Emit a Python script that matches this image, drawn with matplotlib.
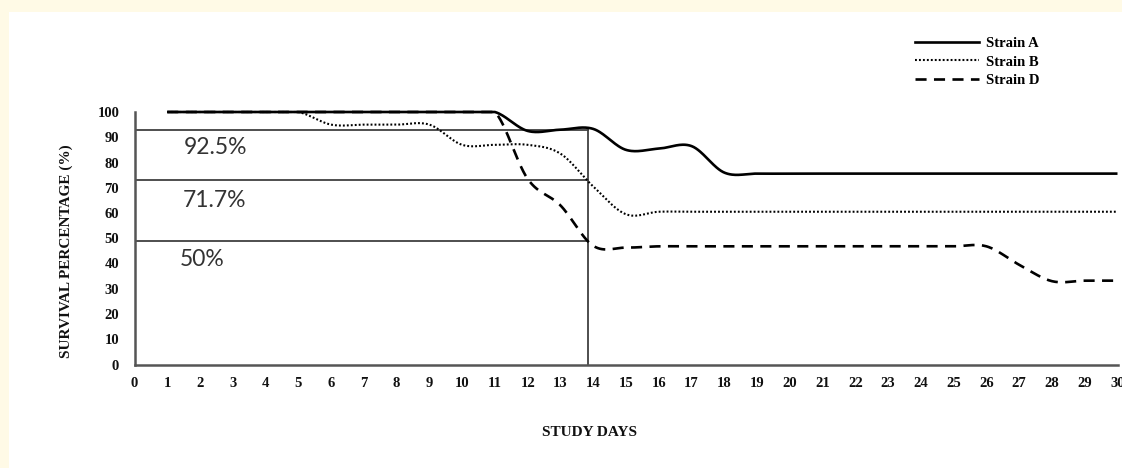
import numpy as np
import matplotlib
matplotlib.use("Agg")
import matplotlib.pyplot as plt
from matplotlib.patches import Rectangle
from matplotlib.lines import Line2D

# ---- data ----
days = list(range(1, 31))
strain_a = [100]*11 + [92.5, 93.0, 93.3, 85.0, 85.5, 86.5, 76.0] + [75.6]*12
strain_b = [100]*5 + [95, 95, 95, 95, 87, 87, 87, 83.5, 70.5, 59.5] + [60.5]*15
strain_d = [100]*11 + [73.5, 63.0, 47.0, 46.3] + [46.8]*11 + [39.5, 33.0, 33.2, 33.2]
series_names = ["Strain A", "Strain B", "Strain D"]

ref_levels = [93.0, 72.9, 48.9]          # drawn reference lines
ref_labels = ["92.5%", "71.7%", "50%"]
ref_label_pos = [(1.51, 86.1), (1.48, 65.1), (1.39, 41.4)]
ref_day = 13.84

xticks = list(range(0, 31))
yticks = list(range(0, 101, 10))


def smooth(x, y, n=30, ymax=100):
    """Catmull-Rom spline (Excel-like smoothing), clipped to the axis maximum."""
    x = np.asarray(x, float)
    y = np.asarray(y, float)
    m = np.zeros_like(y)
    m[1:-1] = (y[2:] - y[:-2]) / 2.0
    m[0] = y[1] - y[0]
    m[-1] = y[-1] - y[-2]
    xs, ys = [], []
    for i in range(len(x) - 1):
        t = np.linspace(0, 1, n, endpoint=False)
        h00 = 2*t**3 - 3*t**2 + 1
        h10 = t**3 - 2*t**2 + t
        h01 = -2*t**3 + 3*t**2
        h11 = t**3 - t**2
        dx = x[i+1] - x[i]
        xs.append(x[i] + t*dx)
        ys.append(h00*y[i] + h10*m[i]*dx + h01*y[i+1] + h11*m[i+1]*dx)
    xs.append([x[-1]])
    ys.append([y[-1]])
    xs = np.concatenate(xs)
    ys = np.minimum(np.concatenate(ys), ymax)
    return xs, ys


W, H = 1122, 468
fig = plt.figure(figsize=(W/100, H/100), dpi=100)
fig.patch.set_facecolor("#FFFAE6")
fig.patches.append(Rectangle((9/W, 0), 1, (H-12)/H, transform=fig.transFigure,
                             facecolor="white", edgecolor="none", zorder=-10))

ax = fig.add_axes([134.5/W, 1-364.5/H, 983/W, 252.5/H])
ax.set_zorder(5)
ax.set_facecolor("none")
ax.set_xlim(0, 30)
ax.set_ylim(0, 100)

serif = "Liberation Serif"
styles = [
    dict(color="black", lw=1.9, linestyle="-"),
    dict(color="black", lw=1.5, linestyle=(0, (0.9, 1.0))),
    dict(color="black", lw=1.9, linestyle=(0, (4.2, 2.8))),
]
for vals, st in zip([strain_a, strain_b, strain_d], styles):
    xs, ys = smooth(days, vals)
    ax.plot(xs, ys, clip_on=False, zorder=3, solid_capstyle="butt", **st)

# reference lines
for lv in ref_levels:
    ax.plot([0, ref_day], [lv, lv], color="#404040", lw=1.3, zorder=2)
ax.plot([ref_day, ref_day], [0, ref_levels[0] + 0.6], color="#404040", lw=1.3, zorder=2)
for lab, (tx, ty) in zip(ref_labels, ref_label_pos):
    ax.text(tx, ty, lab, fontsize=16.5, family="Lato", color="#333333",
            ha="left", va="center")

for s in ["top", "right"]:
    ax.spines[s].set_visible(False)
for s in ["left", "bottom"]:
    ax.spines[s].set_color("#555555")
    ax.spines[s].set_linewidth(1.8)

ax.set_xticks(xticks)
ax.set_yticks(yticks)
ax.tick_params(length=0, pad=9)
ax.tick_params(axis="y", pad=11)
for lbl in ax.get_xticklabels() + ax.get_yticklabels():
    lbl.set_fontfamily(serif)
    lbl.set_fontweight("bold")
    lbl.set_fontsize(10.5)
    lbl.set_color("#111111")

fig.text(590/W, 1-432/H, "STUDY DAYS", family=serif, fontweight="bold",
         fontsize=11, ha="center", va="center", color="#111111")
fig.text(66/W, 1-251/H, "SURVIVAL PERCENTAGE (%)", family=serif, fontweight="bold",
         fontsize=11, ha="center", va="center", rotation=90, color="#111111")

handles = [Line2D([], [], **st) for st in styles]
leg = fig.legend(handles, series_names, loc="upper left",
                 bbox_to_anchor=(915/W, 1-37/H), frameon=False,
                 prop=dict(family=serif, weight="bold", size=10.5),
                 handlelength=4.4, handletextpad=0.5, labelspacing=0.35,
                 borderpad=0, borderaxespad=0)

fig.savefig("out.png", dpi=100, facecolor=fig.get_facecolor())
